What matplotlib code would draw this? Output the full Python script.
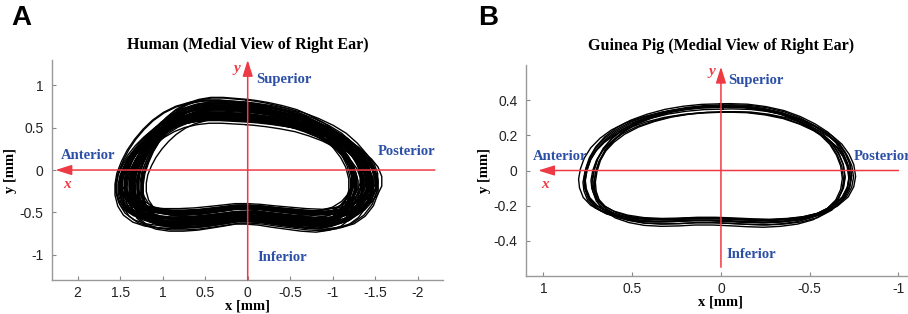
"""Stapes footplate trajectories, human vs guinea pig (medial view of right ear)."""

import matplotlib

matplotlib.use("Agg")
import matplotlib.pyplot as plt
import numpy as np


# ---- data -----------------------------------------------------------------
# mean trajectory (x, y) in mm
HUMAN_X = [0.00, 0.15, 0.30, 0.45, 0.60, 0.75, 0.88, 1.00, 1.10, 1.19, 1.27, 1.33,
           1.38, 1.40, 1.40, 1.37, 1.31, 1.21, 1.08, 0.92, 0.75, 0.58, 0.42, 0.27,
           0.13, 0.00, -0.15, -0.30, -0.48, -0.66, -0.84, -1.00, -1.14, -1.26, -1.35,
           -1.40, -1.40, -1.36, -1.29, -1.19, -1.07, -0.93, -0.77, -0.60, -0.42, -0.25,
           -0.10, 0.00]
HUMAN_Y = [0.67, 0.68, 0.69, 0.69, 0.67, 0.63, 0.57, 0.49, 0.40, 0.30, 0.19, 0.08,
           -0.04, -0.15, -0.26, -0.37, -0.46, -0.53, -0.57, -0.59, -0.59, -0.58, -0.56,
           -0.54, -0.52, -0.52, -0.53, -0.55, -0.57, -0.59, -0.60, -0.58, -0.54, -0.46,
           -0.35, -0.22, -0.09, 0.04, 0.15, 0.26, 0.36, 0.44, 0.51, 0.57, 0.61, 0.64,
           0.66, 0.67]

# per-cycle deviation from the mean trajectory (scale x, scale y, shift x, shift y)
HUMAN_SX = [0.90, 1.08, 0.95, 1.02, 0.88, 1.10, 0.97, 1.05, 0.92, 1.00,
            1.07, 0.89, 0.99, 1.04, 0.93, 1.09, 0.96, 1.01, 0.91, 1.06,
            0.94, 1.03, 0.98, 1.08, 0.90, 1.00, 0.95, 1.05, 0.92, 1.02,
            0.97, 1.10, 0.89, 1.04, 0.96, 0.99, 1.06, 0.93, 1.01, 0.87,
            1.09, 0.95, 1.03, 0.91, 0.98, 1.07, 0.94, 1.02, 0.88, 1.05,
            0.97, 1.00, 0.92, 1.08, 0.96, 1.04, 0.90, 1.01, 0.99, 1.06]
HUMAN_SY = [0.85, 1.12, 0.95, 1.05, 0.90, 1.18, 1.00, 0.88, 1.10, 0.93,
            1.15, 0.97, 1.03, 0.86, 1.08, 0.92, 1.20, 0.99, 1.06, 0.84,
            1.13, 0.96, 1.02, 0.89, 1.16, 0.94, 1.09, 0.87, 1.04, 1.11,
            0.91, 1.00, 1.14, 0.95, 0.83, 1.07, 0.98, 1.17, 0.90, 1.05,
            0.86, 1.12, 0.93, 1.01, 1.19, 0.88, 1.06, 0.97, 1.10, 0.85,
            1.03, 0.92, 1.15, 0.99, 0.87, 1.08, 0.94, 1.13, 0.90, 1.04]
HUMAN_DX = [0.03, -0.02, 0.05, 0.00, -0.04, 0.02, 0.06, -0.03, 0.01, -0.05,
            0.04, 0.00, -0.01, 0.03, -0.06, 0.02, 0.00, -0.03, 0.05, 0.01,
            -0.02, 0.04, -0.04, 0.00, 0.02, -0.01, 0.06, -0.05, 0.03, 0.00,
            -0.02, 0.01, 0.04, -0.03, 0.02, -0.04, 0.01, 0.05, -0.02, 0.03,
            -0.05, 0.00, 0.04, -0.01, 0.02, -0.03, 0.06, -0.04, 0.00, 0.03,
            -0.02, 0.05, -0.06, 0.01, 0.02, -0.01, 0.04, -0.03, 0.00, 0.02]
HUMAN_DY = [0.02, -0.03, 0.00, 0.04, -0.02, 0.01, -0.04, 0.03, 0.00, -0.01,
            0.02, 0.05, -0.03, 0.01, 0.00, -0.02, 0.03, -0.05, 0.01, 0.04,
            -0.01, 0.00, 0.02, -0.03, 0.05, -0.02, 0.01, 0.00, -0.04, 0.02,
            0.03, -0.01, 0.00, 0.04, -0.02, 0.01, -0.03, 0.02, 0.05, -0.01,
            0.00, 0.03, -0.04, 0.01, -0.02, 0.04, 0.00, -0.05, 0.02, 0.01,
            -0.03, 0.03, 0.00, -0.02, 0.04, -0.01, 0.02, -0.04, 0.01, 0.00]

GPIG_X = [0.00, 0.10, 0.20, 0.30, 0.40, 0.49, 0.57, 0.63, 0.68, 0.715, 0.735, 0.745,
          0.74, 0.72, 0.68, 0.62, 0.54, 0.45, 0.35, 0.25, 0.15, 0.05, -0.05, -0.15,
          -0.25, -0.35, -0.45, -0.54, -0.62, -0.68, -0.71, -0.72, -0.71, -0.685,
          -0.645, -0.59, -0.52, -0.44, -0.35, -0.25, -0.15, -0.05, 0.00]
GPIG_Y = [0.355, 0.352, 0.342, 0.325, 0.298, 0.265, 0.222, 0.175, 0.120, 0.060,
          0.000, -0.060, -0.110, -0.165, -0.210, -0.245, -0.270, -0.285, -0.290,
          -0.288, -0.283, -0.283, -0.287, -0.292, -0.295, -0.290, -0.278, -0.255,
          -0.215, -0.160, -0.100, -0.040, 0.030, 0.090, 0.150, 0.200, 0.245, 0.285,
          0.318, 0.340, 0.353, 0.356, 0.355]

GPIG_SX = [0.97, 1.03, 0.99, 1.05, 0.95, 1.01, 1.02, 0.96, 1.04, 1.00, 0.98, 1.03]
GPIG_SY = [1.02, 0.96, 1.05, 0.99, 1.03, 0.94, 1.00, 1.06, 0.97, 1.01, 0.95, 1.04]
GPIG_DX = [0.00, 0.01, -0.01, 0.02, 0.00, -0.02, 0.01, 0.00, -0.01, 0.02, -0.015, 0.005]
GPIG_DY = [0.005, -0.01, 0.00, 0.01, -0.005, 0.00, 0.01, -0.01, 0.005, 0.00, -0.005, 0.01]


RED = "#ee3a44"
BLUE = "#2c50a6"
SERIF = "Liberation Serif"
SANS = "Liberation Sans"


def _style(ax, xlim, ylim, xticks, yticks):
    ax.set_xlim(*xlim)
    ax.set_ylim(*ylim)
    ax.set_xticks(xticks)
    ax.set_yticks(yticks)
    ax.set_xticklabels([f"{t:g}" for t in xticks], family=SANS, fontsize=10, color="#222")
    ax.set_yticklabels([f"{t:g}" for t in yticks], family=SANS, fontsize=10, color="#222")
    ax.tick_params(direction="in", length=3, color="#888", width=0.8)
    ax.tick_params(axis="x", pad=4)
    ax.tick_params(axis="y", pad=6)
    for s in ("top", "right"):
        ax.spines[s].set_visible(False)
    for s in ("left", "bottom"):
        ax.spines[s].set_color("#999")
        ax.spines[s].set_linewidth(1.0)
    ax.set_xlabel("x [mm]", family=SERIF, fontweight="bold", fontsize=10.5, labelpad=0)
    ax.set_ylabel("y [mm]", family=SERIF, fontweight="bold", fontsize=10.5, labelpad=2)


def _cycles(ax, bx, by, sx, sy, dx, dy, lw):
    bx = np.asarray(bx)
    by = np.asarray(by)
    for a, b, c, d in zip(sx, sy, dx, dy):
        ax.plot(bx * a + c, by * b + d, color="black", lw=lw, zorder=2,
                solid_joinstyle="round")


def _axes_arrows(ax, xl, xr, yb, yt):
    arrow = dict(arrowstyle="-|>,head_length=0.7,head_width=0.22", color=RED, lw=1.1,
                 mutation_scale=14, shrinkA=0, shrinkB=0)
    ax.annotate("", xy=(xl, 0), xytext=(xr, 0), arrowprops=arrow, zorder=3)
    ax.annotate("", xy=(0, yt), xytext=(0, yb), arrowprops=arrow, zorder=3)


def _axis_name(ax, x, y, s):
    ax.text(x, y, s, color=RED, family=SERIF, style="italic", fontweight="bold",
            fontsize=11, ha="center", va="center")


def _label(ax, x, y, s, **kw):
    ax.text(x, y, s, family=SERIF, fontweight="bold", color=BLUE, fontsize=10.5, **kw)


def panel_human(ax):
    _cycles(ax, HUMAN_X, HUMAN_Y, HUMAN_SX, HUMAN_SY, HUMAN_DX, HUMAN_DY, 1.0)
    _axes_arrows(ax, 2.26, -2.2, -1.3, 1.3)
    _style(ax, (2.3, -2.3), (-1.3, 1.3), [2, 1.5, 1, 0.5, 0, -0.5, -1, -1.5, -2], [-1, -0.5, 0, 0.5, 1])
    _axis_name(ax, 0.13, 1.2, "y")
    _axis_name(ax, 2.12, -0.17, "x")
    _label(ax, -0.1, 1.07, "Superior", ha="left", va="center")
    _label(ax, -0.12, -1.03, "Inferior", ha="left", va="center")
    _label(ax, 2.2, 0.17, "Anterior", ha="left", va="center")
    _label(ax, -1.53, 0.22, "Posterior", ha="left", va="center")
    ax.set_title("Human (Medial View of Right Ear)", family=SERIF, fontweight="bold", fontsize=11.5, pad=8)


def panel_gpig(ax):
    _cycles(ax, GPIG_X, GPIG_Y, GPIG_SX, GPIG_SY, GPIG_DX, GPIG_DY, 1.0)
    _axes_arrows(ax, 1.03, -1.0, -0.55, 0.59)
    _style(ax, (1.1, -1.1), (-0.6, 0.6), [1, 0.5, 0, -0.5, -1], [-0.4, -0.2, 0, 0.2, 0.4])
    _axis_name(ax, 0.05, 0.565, "y")
    _axis_name(ax, 0.99, -0.08, "x")
    _label(ax, -0.04, 0.51, "Superior", ha="left", va="center")
    _label(ax, -0.03, -0.475, "Inferior", ha="left", va="center")
    _label(ax, 1.06, 0.08, "Anterior", ha="left", va="center")
    _label(ax, -0.75, 0.08, "Posterior", ha="left", va="center")
    ax.set_title("Guinea Pig (Medial View of Right Ear)", family=SERIF, fontweight="bold", fontsize=11.5, pad=11)


def main():
    fig = plt.figure(figsize=(9.08, 3.14), dpi=100)
    ax_a = fig.add_axes([0.0573, 0.108, 0.431, 0.701])
    ax_b = fig.add_axes([0.579, 0.121, 0.430, 0.672])
    panel_human(ax_a)
    panel_gpig(ax_b)
    fig.text(0.012, 0.92, "A", family=SANS, fontweight="bold", fontsize=20)
    fig.text(0.527, 0.92, "B", family=SANS, fontweight="bold", fontsize=20)
    fig.savefig("out.png", dpi=100)
    plt.close(fig)


if __name__ == "__main__":
    main()
